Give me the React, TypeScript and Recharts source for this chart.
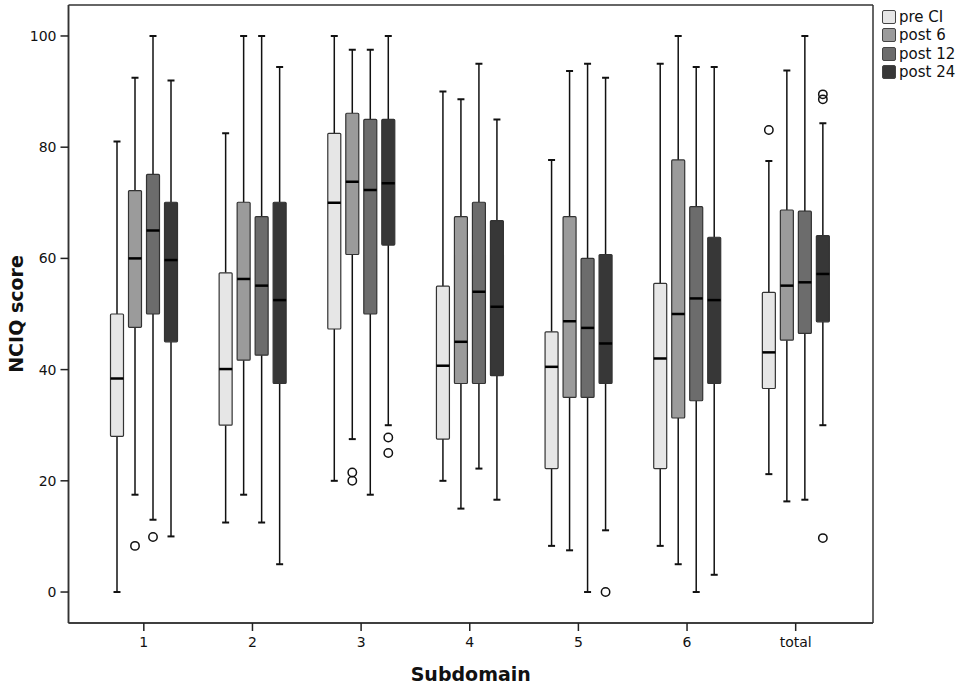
import { ComposedChart, Bar, XAxis, YAxis, CartesianGrid, Label } from 'recharts'

const subdomains = ['1', '2', '3', '4', '5', '6', 'total']

// box stats per subdomain: [lower whisker, q1, median, q3, upper whisker]
const preCI = [
  [0, 28, 38.4, 50, 81],
  [12.5, 30, 40.1, 57.4, 82.5],
  [20, 47.3, 70, 82.5, 100],
  [20, 27.5, 40.7, 55, 90],
  [8.3, 22.2, 40.5, 46.8, 77.7],
  [8.3, 22.2, 42, 55.5, 95],
  [21.2, 36.6, 43.1, 53.9, 77.5],
]
const post6 = [
  [17.5, 47.6, 60, 72.2, 92.5],
  [17.5, 41.7, 56.3, 70.1, 100],
  [27.5, 60.7, 73.8, 86.1, 97.5],
  [15, 37.5, 45, 67.5, 88.6],
  [7.5, 35, 48.7, 67.5, 93.7],
  [5, 31.3, 50, 77.7, 100],
  [16.3, 45.3, 55.1, 68.7, 93.8],
]
const post12 = [
  [13, 50, 65, 75.1, 100],
  [12.5, 42.6, 55.1, 67.5, 100],
  [17.5, 50, 72.3, 85, 97.5],
  [22.2, 37.5, 54, 70.1, 95],
  [0, 35, 47.5, 60, 95],
  [0, 34.4, 52.8, 69.3, 94.4],
  [16.6, 46.5, 55.7, 68.5, 100],
]
const post24 = [
  [10, 45, 59.7, 70.1, 92],
  [5, 37.5, 52.5, 70.1, 94.4],
  [30, 62.4, 73.5, 85, 100],
  [16.6, 38.9, 51.3, 66.8, 85],
  [11.1, 37.5, 44.7, 60.7, 92.5],
  [3.1, 37.5, 52.5, 63.8, 94.4],
  [30, 48.6, 57.2, 64.1, 84.3],
]

// outliers per subdomain
const preCIOutliers = [[], [], [], [], [], [], [83.1]]
const post6Outliers = [[8.3], [], [21.5, 20], [], [], [], []]
const post12Outliers = [[9.9], [], [], [], [], [], []]
const post24Outliers = [[], [], [27.8, 25], [], [0], [], [89.5, 88.6, 9.7]]

const yTicks = [0, 20, 40, 60, 80, 100]

const series = [
  { key: 'pre', name: 'pre CI', color: '#e6e6e6', stats: preCI, outliers: preCIOutliers },
  { key: 'p6', name: 'post 6', color: '#9b9b9b', stats: post6, outliers: post6Outliers },
  { key: 'p12', name: 'post 12', color: '#6c6c6c', stats: post12, outliers: post12Outliers },
  { key: 'p24', name: 'post 24', color: '#373737', stats: post24, outliers: post24Outliers },
]

const data = subdomains.map((name, i) => {
  const row: any = { name }
  series.forEach(s => {
    row[s.key] = s.stats[i]
    row[s.key + 'Out'] = s.outliers[i]
  })
  return row
})

const FONT = 'DejaVu Sans'

function makeBoxShape(key: string, color: string) {
  return (props: any) => {
    const { x, y, width, height, payload } = props
    const st: number[] = payload[key]
    const out: number[] = payload[key + 'Out'] || []
    const lo = st[0]
    const hi = st[4]
    const top = Math.min(y, y + height)
    const bottom = Math.max(y, y + height)
    // bar spans lo..hi, so map other values linearly inside it
    const py = (v: number) => bottom - ((bottom - top) * (v - lo)) / (hi - lo)
    const cx = x + width / 2
    const cap = 3.5
    return (
      <g>
        <line x1={cx} x2={cx} y1={py(hi)} y2={py(st[3])} stroke="#111" strokeWidth={1.5} />
        <line x1={cx} x2={cx} y1={py(st[1])} y2={py(lo)} stroke="#111" strokeWidth={1.5} />
        <line x1={cx - cap} x2={cx + cap} y1={py(hi)} y2={py(hi)} stroke="#111" strokeWidth={2} />
        <line x1={cx - cap} x2={cx + cap} y1={py(lo)} y2={py(lo)} stroke="#111" strokeWidth={2} />
        <rect
          x={x}
          y={py(st[3])}
          width={width}
          height={py(st[1]) - py(st[3])}
          fill={color}
          stroke="#333"
          strokeWidth={1.2}
          rx={1}
        />
        <line x1={x} x2={x + width} y1={py(st[2])} y2={py(st[2])} stroke="#000" strokeWidth={2.5} />
        {out.map((v, j) => (
          <circle key={j} cx={cx} cy={py(v)} r={4.2} fill="none" stroke="#111" strokeWidth={1.5} />
        ))}
      </g>
    )
  }
}

function YTitle(props: any) {
  const vb = props.viewBox
  const x = vb.x + 7
  const y = vb.y + vb.height / 2
  return (
    <text
      x={x}
      y={y}
      transform={`rotate(-90, ${x}, ${y})`}
      textAnchor="middle"
      dominantBaseline="central"
      fontFamily={FONT}
      fontWeight="bold"
      fontSize={19}
      fill="#111"
    >
      NCIQ score
    </text>
  )
}

function XTitle(props: any) {
  const vb = props.viewBox
  return (
    <text
      x={vb.x + vb.width / 2}
      y={vb.y + 57.5}
      textAnchor="middle"
      fontFamily={FONT}
      fontWeight="bold"
      fontSize={19}
      fill="#111"
    >
      Subdomain
    </text>
  )
}

function BoxLegend() {
  return (
    <div style={{ position: 'absolute', left: 882, top: 8, fontFamily: FONT, fontSize: 15, color: '#111' }}>
      {series.map(s => (
        <div key={s.key} style={{ display: 'flex', alignItems: 'center', height: 18.3 }}>
          <div
            style={{
              width: 12,
              height: 12,
              background: s.color,
              border: '1px solid #444',
              borderRadius: 2,
              marginRight: 3,
            }}
          />
          <span style={{ lineHeight: '18px' }}>{s.name}</span>
        </div>
      ))}
    </div>
  )
}

export default function App() {
  return (
    <div style={{ position: 'absolute', left: 0, top: 0, width: 960, height: 687, background: '#fff' }}>
      <ComposedChart
        width={960}
        height={687}
        data={data}
        margin={{ top: 5, right: 87, bottom: 24, left: 8.5 }}
        barGap={5}
      >
        <CartesianGrid
          stroke="#333"
          strokeWidth={1.5}
          horizontalCoordinatesGenerator={({ offset }: any) => [offset.top, offset.top + offset.height]}
          verticalCoordinatesGenerator={({ offset }: any) => [offset.left, offset.left + offset.width]}
        />
        <XAxis
          dataKey="name"
          padding={{ left: 21, right: 23 }}
          height={40}
          tickSize={8}
          tickMargin={6}
          tick={{ fill: '#111', fontSize: 14, fontFamily: FONT }}
          axisLine={{ stroke: '#333', strokeWidth: 1.5 }}
          tickLine={{ stroke: '#222', strokeWidth: 1.5 }}
        >
          <Label content={XTitle} />
        </XAxis>
        <YAxis
          type="number"
          domain={[-5.57, 105.57]}
          ticks={yTicks}
          allowDataOverflow
          width={60}
          tickSize={8}
          tickMargin={4}
          tick={{ fill: '#111', fontSize: 14, fontFamily: FONT }}
          axisLine={{ stroke: '#333', strokeWidth: 1.5 }}
          tickLine={{ stroke: '#222', strokeWidth: 1.5 }}
        >
          <Label content={YTitle} />
        </YAxis>
        {series.map(s => (
          <Bar
            key={s.key}
            name={s.name}
            dataKey={(r: any) => [r[s.key][0], r[s.key][4]]}
            fill={s.color}
            barSize={13}
            shape={makeBoxShape(s.key, s.color)}
            isAnimationActive={false}
          />
        ))}
      </ComposedChart>
      <BoxLegend />
    </div>
  )
}
